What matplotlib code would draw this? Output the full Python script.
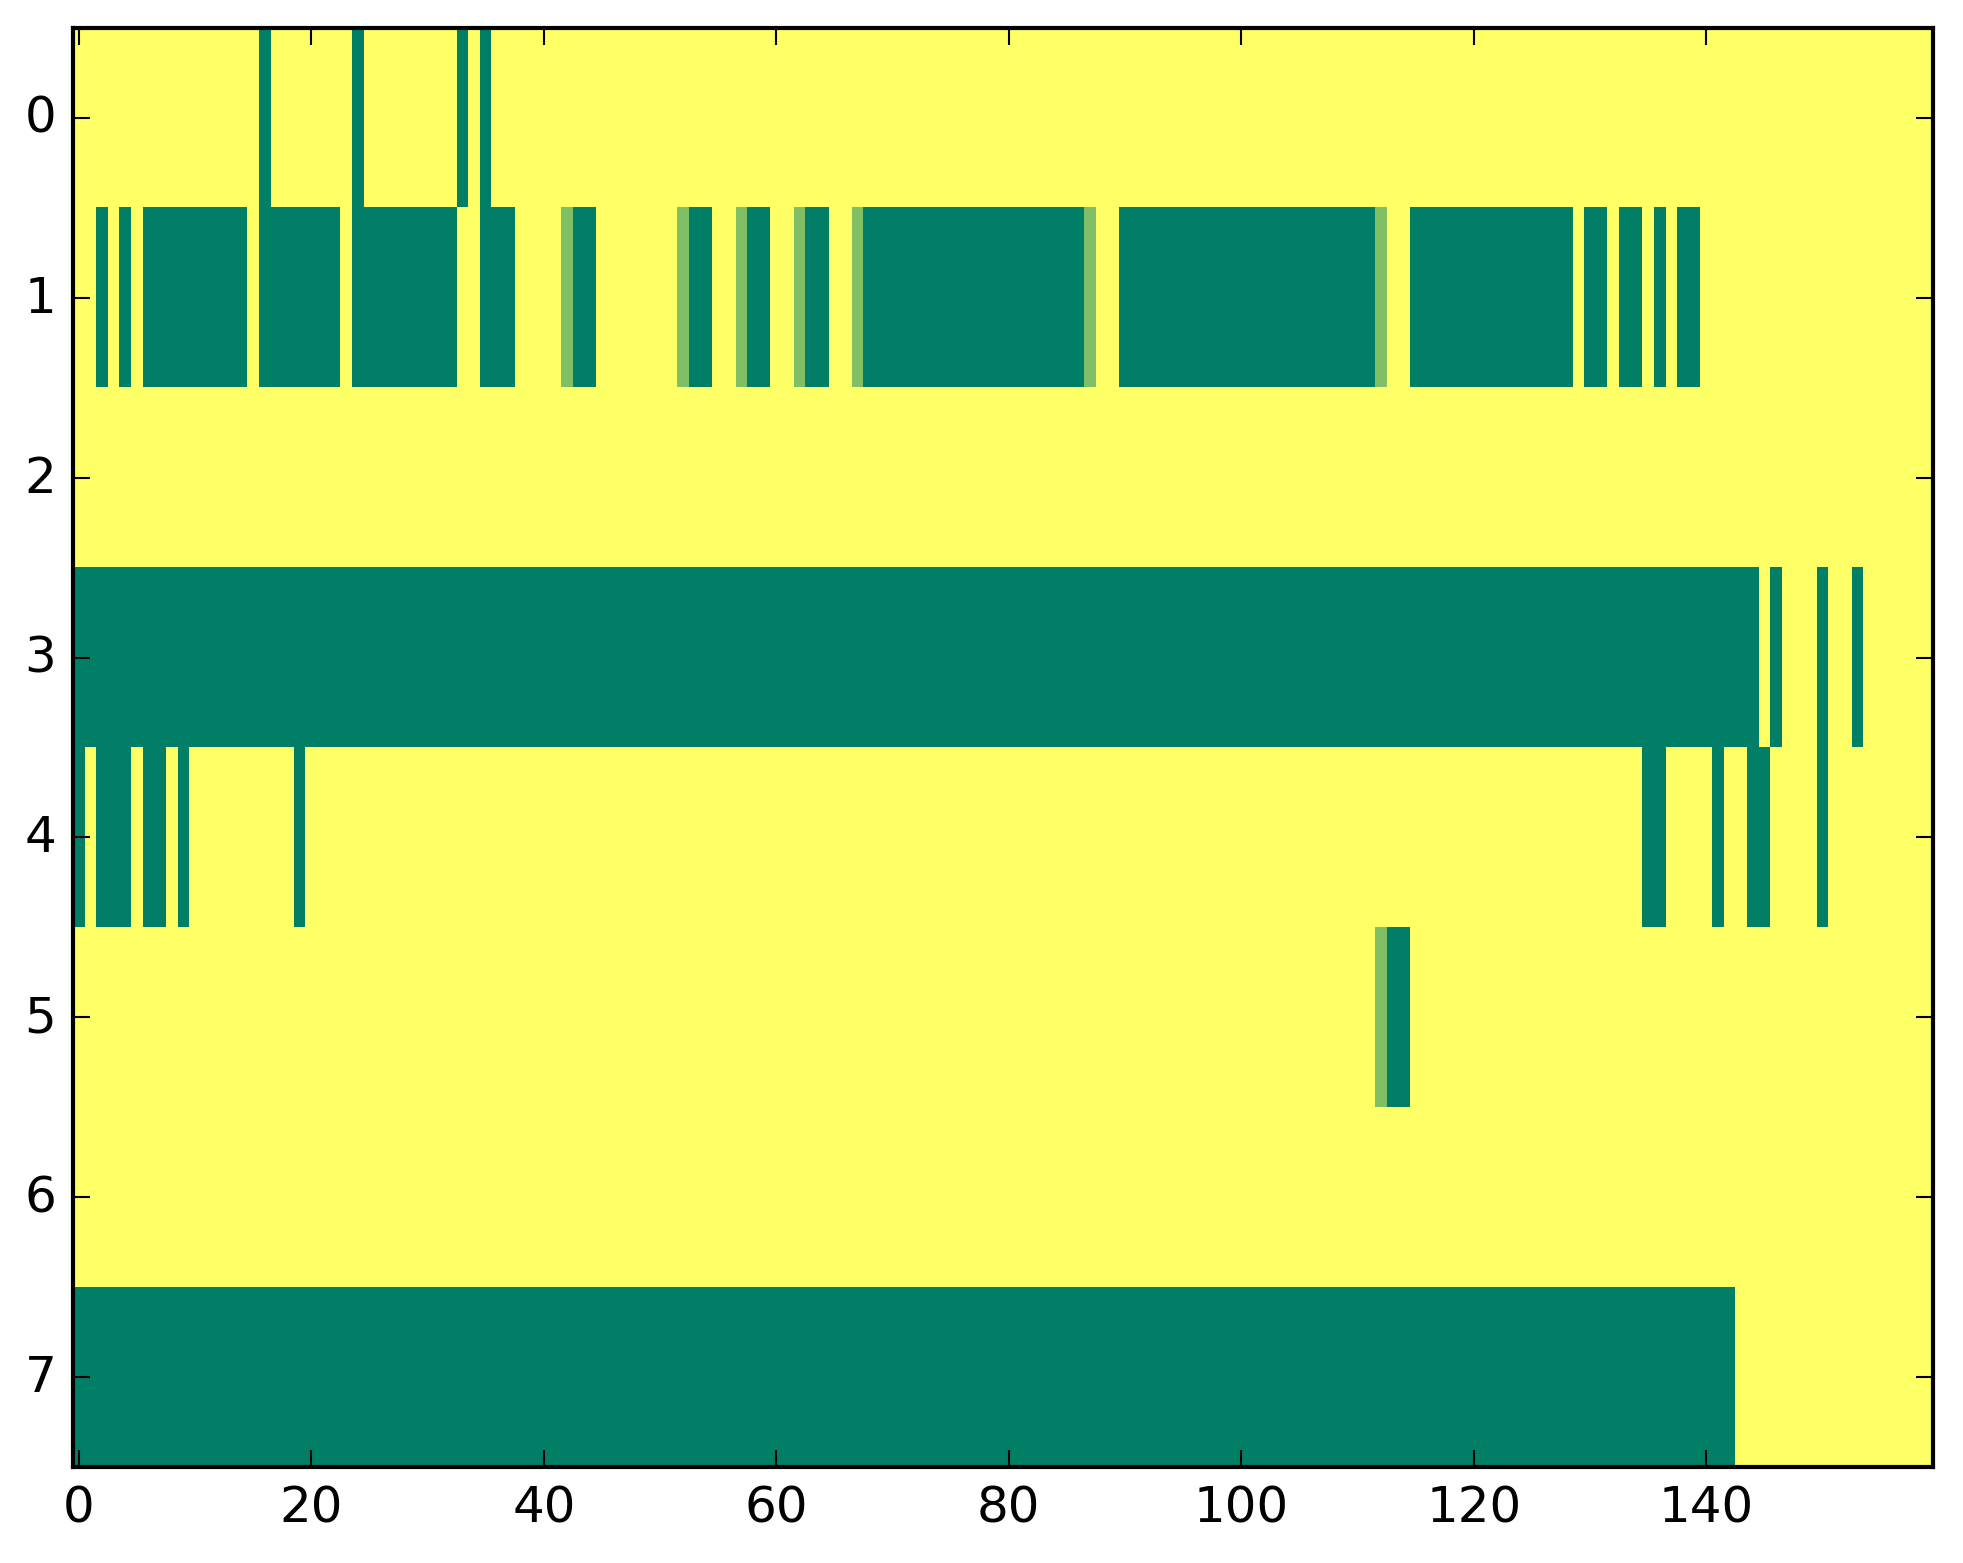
import numpy as np
import matplotlib
matplotlib.use("Agg")
import matplotlib.pyplot as plt

plt.style.use("classic")

n_rows = 8
n_cols = 160

# Columns with value 0 (dark green) per row
row0_zero = [16, 24, 33, 35]
row1_zero = ([2, 4] + list(range(6, 15)) + list(range(16, 23)) + list(range(24, 33))
             + [35, 36, 37, 43, 44, 53, 54, 58, 59, 63, 64]
             + list(range(68, 87)) + list(range(90, 112)) + list(range(115, 129))
             + [130, 131, 133, 134, 136, 138, 139])
row2_zero = []
row3_zero = list(range(0, 145)) + [146, 150, 153]
row4_zero = [0, 2, 3, 4, 6, 7, 9, 19, 135, 136, 141, 144, 145, 150]
row5_zero = [113, 114]
row6_zero = []
row7_zero = list(range(0, 143))

# Columns with value 0.5 (light green) per row
row1_half = [42, 52, 57, 62, 67, 87, 112]
row5_half = [112]

zero_cols = [row0_zero, row1_zero, row2_zero, row3_zero,
             row4_zero, row5_zero, row6_zero, row7_zero]
half_cols = {1: row1_half, 5: row5_half}

data = np.ones((n_rows, n_cols))
for r, cols in enumerate(zero_cols):
    data[r, cols] = 0.0
for r, cols in half_cols.items():
    data[r, cols] = 0.5

fig = plt.figure(figsize=(1963 / 300, 1564 / 300), dpi=300, facecolor="white")
ax = fig.add_axes([0.0372, 0.0614, 0.9475, 0.9201])
ax.imshow(data, cmap="summer", vmin=0, vmax=1, aspect="auto",
          interpolation="nearest")
ax.set_xticks([0, 20, 40, 60, 80, 100, 120, 140])
ax.set_yticks(range(n_rows))
ax.tick_params(labelsize=12)
fig.savefig("out.png", dpi=300, facecolor="white")
